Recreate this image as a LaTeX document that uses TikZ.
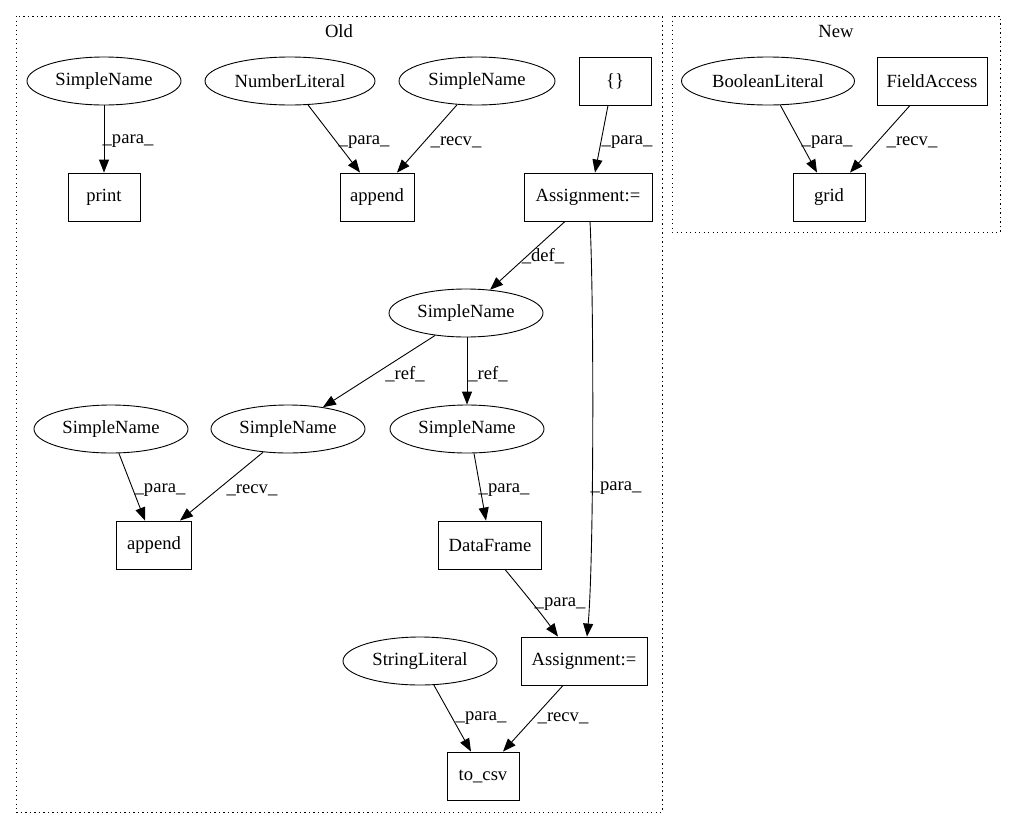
\documentclass[tikz,border=0pt]{standalone}
\usepackage{fontspec}
\setmainfont{Liberation Serif}
\usetikzlibrary{shapes.geometric,arrows.meta}
\begin{document}
\begin{tikzpicture}[x=1pt,y=-1pt,
  every node/.style={font=\fontsize{18.6}{21}\selectfont},
  box/.style={draw,rectangle,minimum height=48pt,inner sep=2pt,line width=0.9pt},
  ell/.style={draw,ellipse,minimum height=48pt,inner sep=1pt,line width=0.9pt},
  e/.style={line width=0.9pt,-{Triangle[length=13pt,width=10pt]}},
  lbl/.style={inner sep=0pt},
  clus/.style={line width=0.9pt,dash pattern=on 1.2pt off 3.3pt}]
\useasboundingbox (0,0) rectangle (1015,828);
% clusters
\draw[clus] (16,16) rectangle (662,812);
\node (old) at (339,31) {Old};
\draw[clus] (672,16) rectangle (1000,232);
\node (new) at (836,31) {New};
% nodes
\node[ell,minimum width=154pt] (sn1) at (104,81) {SimpleName};
\node[box,minimum width=72pt] (print) at (104,197) {print};
\node[ell,minimum width=170pt] (num) at (290,81) {NumberLiteral};
\node[ell,minimum width=156pt] (sn2) at (477,81) {SimpleName};
\node[box,minimum width=74pt] (app1) at (377,197) {append};
\node[box,minimum width=72pt] (br) at (615,81) {\{\}};
\node[box,minimum width=128pt] (as1) at (588,197) {Assignment:=};
\node[ell,minimum width=154pt] (sn3) at (466,313) {SimpleName};
\node[ell,minimum width=154pt] (sn4) at (111,429) {SimpleName};
\node[ell,minimum width=154pt] (sn5) at (288,429) {SimpleName};
\node[ell,minimum width=154pt] (sn6) at (467,429) {SimpleName};
\node[box,minimum width=75pt] (app2) at (154,545) {append};
\node[box,minimum width=103pt] (df) at (490,545) {DataFrame};
\node[box,minimum width=126pt] (as2) at (584,661) {Assignment:=};
\node[ell,minimum width=154pt] (str) at (420,661) {StringLiteral};
\node[box,minimum width=72pt] (csv) at (483,776) {to\_csv};
\node[ell,minimum width=173pt] (bool) at (768,81) {BooleanLiteral};
\node[box,minimum width=110pt] (fa) at (932,81) {FieldAccess};
\node[box,minimum width=72pt] (grid) at (829,197) {grid};
% edges
\draw[e] (sn1.south) -- (print.north);
\node[lbl] (l1) at (128,141) {\_para\_};
\draw[e] (num.-53) -- ([xshift=-17pt]app1.north);
\node[lbl] (l2) at (364,142) {\_para\_};
\draw[e] (sn2.-130) -- ([xshift=20pt]app1.north);
\node[lbl] (l3) at (456,142) {\_recv\_};
\draw[e] ([xshift=-7pt]br.south) -- ([xshift=7pt]as1.north);
\node[lbl] (l4) at (627,142) {\_para\_};
\draw[e] ([xshift=-23pt]as1.south) -- (sn3.44);
\node[lbl] (l5) at (543,256) {\_def\_};
\draw[e] ([xshift=2pt]as1.south) .. controls (594,300) and (594,560) .. ([xshift=3pt]as2.north);
\node[lbl] (l6) at (616,488) {\_para\_};
\draw[e] (sn3.216) -- (sn5.32);
\node[lbl] (l7) at (405,374) {\_ref\_};
\draw[e] ([xshift=1pt]sn3.south) -- (sn6.north);
\node[lbl] (l8) at (488,374) {\_ref\_};
\draw[e] (sn4.-72) -- ([xshift=-9pt]app2.north);
\node[lbl] (l9) at (160,490) {\_para\_};
\draw[e] (sn5.-137) -- ([xshift=26pt]app2.north);
\node[lbl] (l10) at (252,490) {\_recv\_};
\draw[e] (sn6.-74) -- ([xshift=-4pt]df.north);
\node[lbl] (l11) at (504,490) {\_para\_};
\draw[e] ([xshift=15pt]df.south) .. controls (522,590) and (540,612) .. ([xshift=-26pt]as2.north);
\node[lbl] (l12) at (560,604) {\_para\_};
\draw[e] (str.-60) -- ([xshift=-12pt]csv.north);
\node[lbl] (l13) at (481,718) {\_para\_};
\draw[e] ([xshift=-21pt]as2.south) -- ([xshift=20pt]csv.north);
\node[lbl] (l14) at (563,718) {\_recv\_};
\draw[e] (bool.-63) -- ([xshift=-12pt]grid.north);
\node[lbl] (l15) at (827,142) {\_para\_};
\draw[e] ([xshift=-22pt]fa.south) -- ([xshift=21pt]grid.north);
\node[lbl] (l16) at (912,142) {\_recv\_};
\end{tikzpicture}
\end{document}
